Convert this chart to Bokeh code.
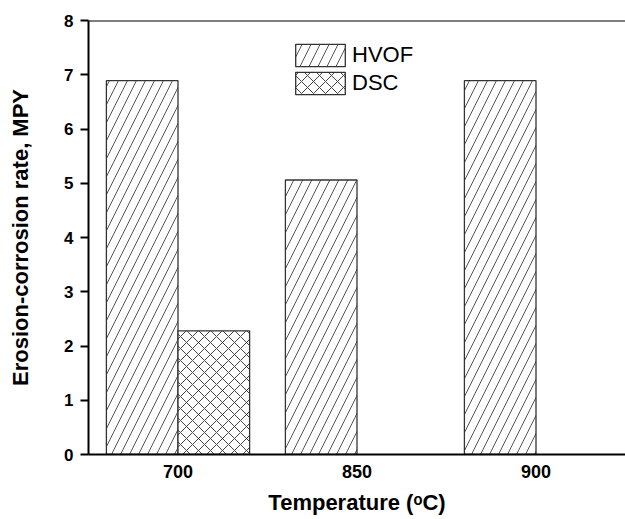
from bokeh.plotting import figure
from bokeh.models import (FactorRange, Range1d, FixedTicker, Span, Legend, LegendItem,
                          ColumnDataSource)
from bokeh.transform import dodge
from bokeh.embed import file_html
from bokeh.resources import INLINE

# ---- data ----
temps = ["700", "850", "900"]
hvof_rate = [6.89, 5.06, 6.89]
dsc_temps = ["700"]
dsc_rate = [2.28]
y_ticks = [0, 1, 2, 3, 4, 5, 6, 7, 8]

FONT = "Liberation Sans"

p = figure(width=625, height=519, x_range=FactorRange(factors=temps),
           y_range=Range1d(0, 8), output_backend="svg", toolbar_location=None,
           min_border_left=88, min_border_right=0, min_border_top=20,
           min_border_bottom=65)
p.outline_line_color = None
p.xgrid.visible = False
p.ygrid.visible = False
p.background_fill_color = "white"
p.border_fill_color = "white"

src_h = ColumnDataSource(dict(t=temps, v=hvof_rate))
src_d = ColumnDataSource(dict(t=dsc_temps, v=dsc_rate))

r_h = p.vbar(x=dodge("t", -0.2, range=p.x_range), top="v", width=0.4, source=src_h,
             fill_color="white", line_color="#333333", line_width=1.3,
             hatch_pattern="/", hatch_color="#555555", hatch_scale=18, hatch_weight=1)
r_d = p.vbar(x=dodge("t", 0.2, range=p.x_range), top="v", width=0.4, source=src_d,
             fill_color="white", line_color="#333333", line_width=1.3,
             hatch_pattern="x", hatch_color="#444444", hatch_scale=12, hatch_weight=1)

# top frame line
p.add_layout(Span(location=8, dimension="width", line_color="black", line_width=2))

# y axis
ya = p.yaxis[0]
ya.ticker = FixedTicker(ticks=y_ticks)
ya.minor_tick_line_color = None
ya.major_tick_out = 8
ya.major_tick_in = 0
ya.major_tick_line_width = 2
ya.axis_line_width = 2
ya.axis_line_color = "black"
ya.major_label_text_font = FONT
ya.major_label_text_font_style = "bold"
ya.major_label_text_font_size = "17px"
ya.major_label_text_color = "black"
ya.major_label_standoff = 7
ya.axis_label = "Erosion-corrosion rate, MPY"
ya.axis_label_text_font = FONT
ya.axis_label_text_font_style = "bold"
ya.axis_label_text_font_size = "22px"
ya.axis_label_text_color = "black"
ya.axis_label_standoff = 28

# x axis
xa = p.xaxis[0]
xa.major_tick_out = 0
xa.major_tick_in = 0
xa.minor_tick_line_color = None
xa.axis_line_width = 2
xa.axis_line_color = "black"
xa.major_label_text_font = FONT
xa.major_label_text_font_style = "bold"
xa.major_label_text_font_size = "18px"
xa.major_label_text_color = "black"
xa.major_label_standoff = 10
xa.axis_label = "Temperature (\u1d52C)"
xa.axis_label_text_font = FONT
xa.axis_label_text_font_style = "bold"
xa.axis_label_text_font_size = "22px"
xa.axis_label_text_color = "black"
xa.axis_label_standoff = 9

legend = Legend(items=[LegendItem(label="HVOF", renderers=[r_h]),
                       LegendItem(label="DSC", renderers=[r_d])],
                location=(201, 357), orientation="vertical",
                glyph_width=62, glyph_height=28, spacing=0, padding=0, margin=0,
                label_standoff=1, label_text_font=FONT, label_text_font_size="22px",
                label_text_color="black", border_line_color=None,
                background_fill_alpha=0)
p.add_layout(legend, "center")

open("out.html", "w").write(file_html(p, INLINE))
